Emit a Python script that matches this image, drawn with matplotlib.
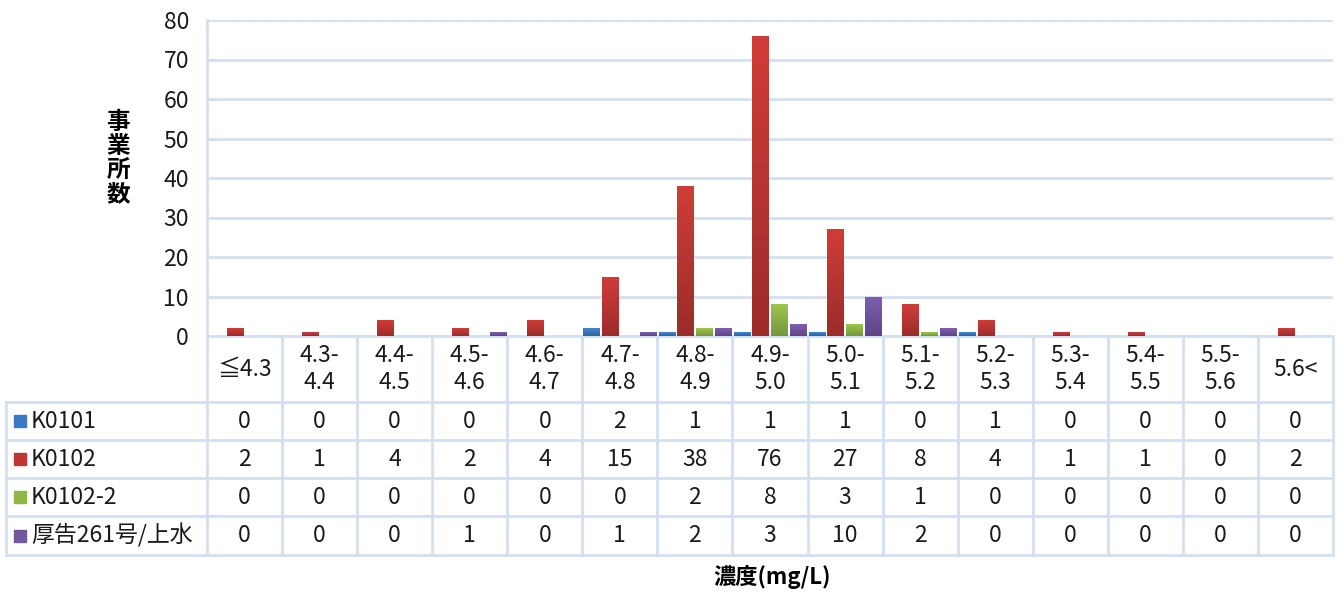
import matplotlib.pyplot as plt
import numpy as np
from matplotlib.colors import LinearSegmentedColormap
from matplotlib.transforms import blended_transform_factory

plt.rcParams['font.family'] = ['Noto Sans CJK JP', 'DejaVu Sans']

categories = ['≦4.3', '4.3-\n4.4', '4.4-\n4.5', '4.5-\n4.6', '4.6-\n4.7', '4.7-\n4.8',
              '4.8-\n4.9', '4.9-\n5.0', '5.0-\n5.1', '5.1-\n5.2', '5.2-\n5.3', '5.3-\n5.4',
              '5.4-\n5.5', '5.5-\n5.6', '5.6<']
series_names = ['K0101', 'K0102', 'K0102-2', '厚告261号/上水']
k0101 = [0, 0, 0, 0, 0, 2, 1, 1, 1, 0, 1, 0, 0, 0, 0]
k0102 = [2, 1, 4, 2, 4, 15, 38, 76, 27, 8, 4, 1, 1, 0, 2]
k0102_2 = [0, 0, 0, 0, 0, 0, 2, 8, 3, 1, 0, 0, 0, 0, 0]
kokoku = [0, 0, 0, 1, 0, 1, 2, 3, 10, 2, 0, 0, 0, 0, 0]
colors = ['#3b79c4', '#bf3732', '#8fb746', '#7457a1']
tops = ['#4485d4', '#d03d38', '#9dc64c', '#7f5fae']
bottoms = ['#2f62a0', '#9c2c2a', '#76973a', '#5f4586']

W, H = 1343, 593
fs = 16.5
txt_c = '#1a1a1a'
fig = plt.figure(figsize=(W / 100, H / 100), dpi=100)
ax = fig.add_axes([207 / W, 1 - 336 / H, (1333 - 207) / W, (336 - 20) / H])

x = np.arange(len(categories))
series = [k0101, k0102, k0102_2, kokoku]
offsets = [-0.375, -0.125, 0.125, 0.375]
grad = np.linspace(1, 0, 64).reshape(-1, 1)
for vals, off, c, t, b in zip(series, offsets, colors, tops, bottoms):
    bars = ax.bar(x + off, vals, width=0.22, color=c, zorder=3)
    cmap = LinearSegmentedColormap.from_list('g', [b, t])
    for bar in bars:
        if bar.get_height() <= 0:
            continue
        x0, w, h = bar.get_x(), bar.get_width(), bar.get_height()
        im = ax.imshow(grad, cmap=cmap, aspect='auto', extent=(x0, x0 + w, 0, h),
                       zorder=4, vmin=0, vmax=1)
        im.set_clip_path(bar)

grid_c = '#d3e0ef'
ax.set_xlim(-0.5, len(categories) - 0.5)
ax.set_ylim(0, 80)
ax.set_yticks(range(0, 81, 10))
ax.yaxis.grid(True, color=grid_c, linewidth=2, zorder=0)
ax.set_xticks([])
ax.tick_params(axis='y', length=0, pad=13, labelsize=fs, labelcolor=txt_c)
for s in ['top', 'right']:
    ax.spines[s].set_visible(False)
for s in ['left', 'bottom']:
    ax.spines[s].set_color(grid_c)
    ax.spines[s].set_linewidth(2)

# data table under the chart
tr = blended_transform_factory(ax.transData, fig.transFigure)
fy = lambda py: 1 - py / H
row_edges = [402, 440, 478, 516, 555]
for k in range(len(categories) + 1):
    ax.plot([k - 0.5, k - 0.5], [fy(336), fy(555)], transform=tr, color=grid_c,
            lw=2, clip_on=False, zorder=1)
fig.add_artist(plt.Line2D([6 / W, 6 / W], [fy(402), fy(555)], color=grid_c, lw=2))
for py in row_edges:
    fig.add_artist(plt.Line2D([6 / W, 1333 / W], [fy(py), fy(py)], color=grid_c, lw=2))

for i, lab in enumerate(categories):
    ax.text(i, fy(369), lab, transform=tr, ha='center', va='center', fontsize=fs,
            color=txt_c, linespacing=1.25)

for r, (name, vals, c) in enumerate(zip(series_names, series, colors)):
    yc = fy((row_edges[r] + row_edges[r + 1]) / 2)
    fig.add_artist(plt.Rectangle((14 / W, yc - 6 / H), 12 / W, 12 / H, color=c))
    fig.text(31 / W, yc, name, ha='left', va='center', fontsize=fs, color=txt_c)
    for i, v in enumerate(vals):
        ax.text(i, yc, str(v), transform=tr, ha='center', va='center', fontsize=fs,
                color=txt_c)

fig.text(118 / W, fy(158), '事\n業\n所\n数', ha='center', va='center', fontsize=17,
         fontweight='bold', linespacing=1.0)
fig.text(772 / W, fy(577), '濃度(mg/L)', ha='center', va='center', fontsize=16,
         fontweight='bold')

fig.savefig('out.png', dpi=100)
